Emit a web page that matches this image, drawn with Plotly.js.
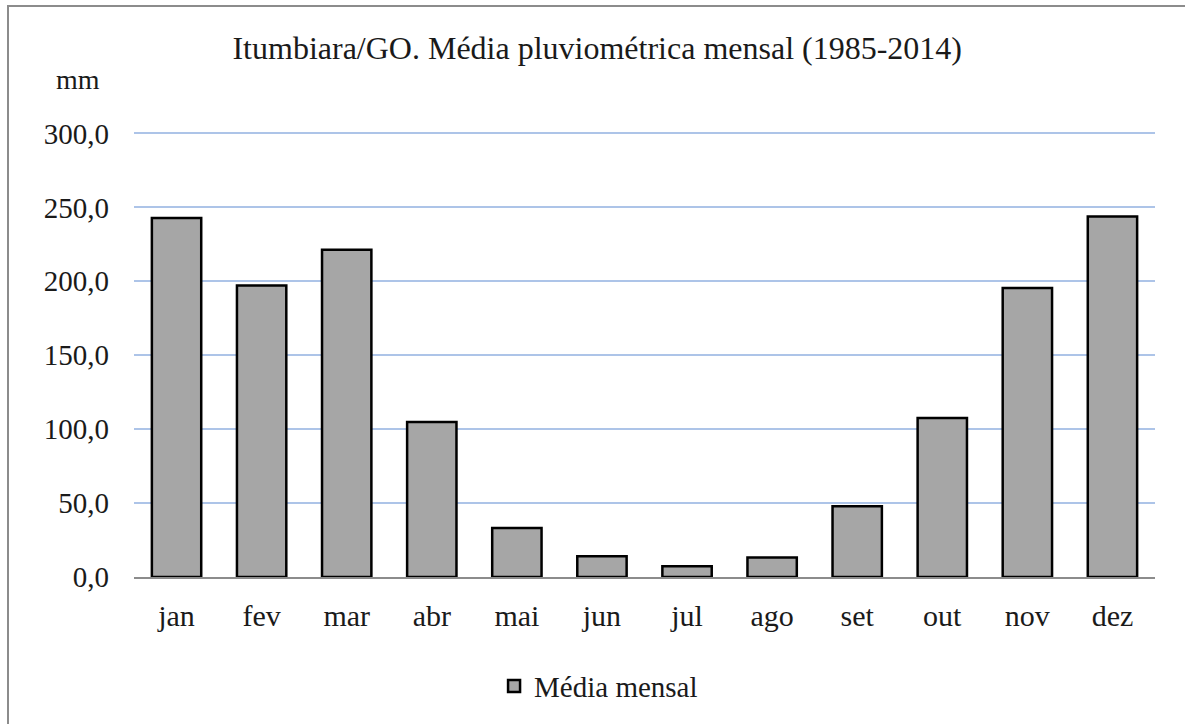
<!DOCTYPE html>
<html>
<head>
<meta charset="utf-8">
<script src="https://cdn.plot.ly/plotly-3.0.1.min.js"></script>
<style>
  html, body { margin: 0; padding: 0; background: #ffffff; overflow: hidden; }
  #frame { position: absolute; left: 7px; top: 5px; width: 3000px; height: 3000px;
           border-left: 2px solid #8c8c8c; border-top: 2px solid #8c8c8c; pointer-events: none; }
  #chart { position: absolute; left: 0; top: 0; width: 1185px; height: 724px; }
</style>
</head>
<body>
<div id="chart"></div>
<div id="frame"></div>
<script>
const months = ['jan', 'fev', 'mar', 'abr', 'mai', 'jun', 'jul', 'ago', 'set', 'out', 'nov', 'dez'];
const mediaMensal = [242.9, 197.2, 221.4, 104.8, 33.1, 14.1, 7.2, 13.2, 47.9, 107.5, 195.4, 243.8];
const seriesName = 'Média mensal';
const titleText = 'Itumbiara/GO. Média pluviométrica mensal (1985-2014)';
const yUnit = 'mm';
const yTicks = [0, 50, 100, 150, 200, 250, 300];

const serif = 'Liberation Serif, Times New Roman, serif';

const trace = {
  type: 'bar',
  x: months,
  y: mediaMensal,
  name: seriesName,
  showlegend: true,
  marker: { color: '#a6a6a6', line: { color: '#000000', width: 2.5 } },
  hoverinfo: 'x+y'
};

const layout = {
  width: 1185,
  height: 724,
  paper_bgcolor: 'rgba(0,0,0,0)',
  plot_bgcolor: 'rgba(0,0,0,0)',
  separators: ',.',
  margin: { l: 134, r: 30, t: 132, b: 144 },
  font: { family: serif, size: 29, color: '#1a1a1a' },
  title: {
    text: titleText,
    font: { family: serif, size: 32, color: '#1a1a1a' },
    xref: 'container', x: 0.504, xanchor: 'center',
    yref: 'container', y: 0.934, yanchor: 'middle'
  },
  bargap: 0.42,
  xaxis: {
    type: 'category',
    showgrid: false,
    showline: true,
    linecolor: '#8c8c8c',
    linewidth: 1.5,
    ticks: '',
    ticklabelstandoff: 11,
    tickfont: { family: serif, size: 30, color: '#1a1a1a' },
    fixedrange: true
  },
  yaxis: {
    range: [0, 301],
    tickvals: yTicks,
    tickformat: '.1f',
    showgrid: true,
    gridcolor: '#adc4e8',
    gridwidth: 2,
    zeroline: false,
    showline: false,
    ticks: '',
    ticklabelstandoff: 24,
    tickfont: { family: serif, size: 29, color: '#1a1a1a' },
    fixedrange: true
  },
  legend: {
    orientation: 'h',
    x: 0.455, xanchor: 'center',
    y: -0.245, yanchor: 'middle',
    font: { family: serif, size: 29, color: '#1a1a1a' },
    bgcolor: 'rgba(0,0,0,0)'
  },
  annotations: [{
    text: yUnit,
    xref: 'paper', yref: 'paper',
    x: -0.055, y: 1.118,
    xanchor: 'center', yanchor: 'middle',
    showarrow: false,
    font: { family: serif, size: 28, color: '#1a1a1a' }
  }]
};

Plotly.newPlot('chart', [trace], layout, { displayModeBar: false, staticPlot: true });
</script>
</body>
</html>
